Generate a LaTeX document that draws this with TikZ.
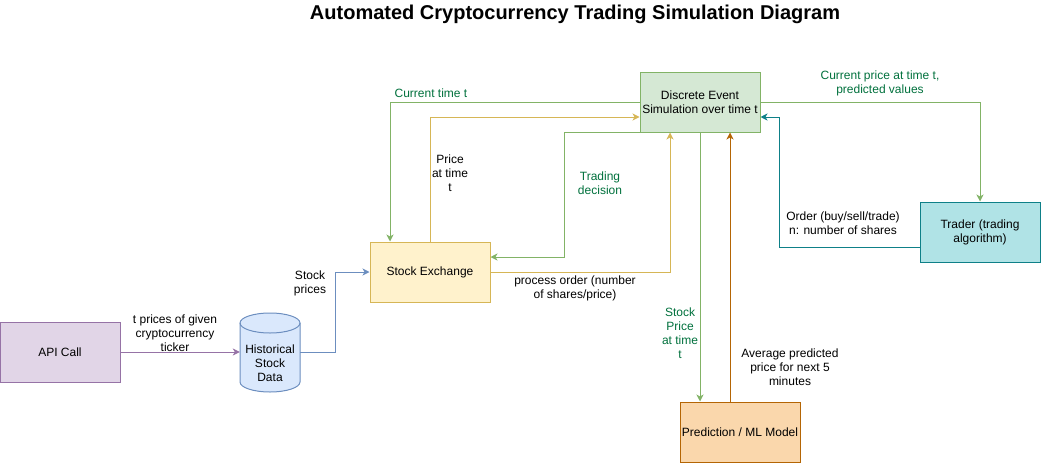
\documentclass[tikz,border=0pt]{standalone}
\usepackage{fontspec}
\setmainfont{Liberation Sans}
\usetikzlibrary{arrows.meta}
\definecolor{desfill}{HTML}{D5E8D4}\definecolor{desline}{HTML}{82B366}
\definecolor{sefill}{HTML}{FFF2CC}\definecolor{seline}{HTML}{D6B656}
\definecolor{apifill}{HTML}{E1D5E7}\definecolor{apiline}{HTML}{9673A6}
\definecolor{histfill}{HTML}{DAE8FC}\definecolor{histline}{HTML}{6C8EBF}
\definecolor{predfill}{HTML}{FAD7AC}\definecolor{predline}{HTML}{B46504}
\definecolor{trfill}{HTML}{B0E3E6}\definecolor{trline}{HTML}{0E8088}
\definecolor{gtext}{RGB}{0,112,60}
\tikzset{
  box/.style={draw, line width=1pt, minimum width=120pt, minimum height=60pt, inner sep=0pt, align=center, font=\fontsize{12}{14}\selectfont},
  conn/.style={line width=1pt, -{Stealth[length=7pt,width=7pt,inset=2pt]}},
  lbl/.style={align=center, inner sep=0pt, font=\fontsize{12}{14}\selectfont},
  glbl/.style={lbl, text=gtext}
}
\begin{document}
\begin{tikzpicture}[x=1pt,y=-1pt]
\useasboundingbox (0,0) rectangle (1041,463);
\node (title) at (575,14) {\fontsize{20}{22}\selectfont\bfseries Automated Cryptocurrency Trading Simulation Diagram};
\node[box, fill=desfill, draw=desline] (des) at (700,102) {Discrete Event\\Simulation over time t};
\node[box, fill=sefill, draw=seline] (se) at (430,272) {Stock Exchange};
\node[box, fill=apifill, draw=apiline] (api) at (60,352) {API Call};
\node[box, fill=predfill, draw=predline] (pred) at (740,432) {Prediction / ML Model};
\node[box, fill=trfill, draw=trline] (trader) at (980,232) {Trader (trading\\algorithm)};
% cylinder
\filldraw[fill=histfill, draw=histline, line width=1pt] (240,323) -- (240,382) arc[start angle=180, end angle=360, x radius=30pt, y radius=10pt] -- (300,323) arc[start angle=0, end angle=180, x radius=30pt, y radius=10pt] -- cycle;
\draw[histline, line width=1pt] (240,323) arc[start angle=180, end angle=360, x radius=30pt, y radius=10pt];
\node[minimum width=60pt, minimum height=79pt, inner sep=0pt] (hist) at (270,352) {};
\node[lbl] (histlabel) at (270,363) {Historical\\Stock\\Data};
% connectors
\draw[conn, apiline] (api.east) -- (hist.west);
\draw[conn, histline] (hist.east) -- ++(35,0) |- (se.west);
\draw[conn, desline] (des.west) -| ([xshift=-40pt]se.north);
\draw[conn, seline] (se.north) |- ([yshift=-15pt]des.west);
\draw[conn, desline] (des.south west) -- ++(-75,0) |- ([yshift=15pt]se.east);
\draw[conn, seline] (se.east) -| ([xshift=-30pt]des.south);
\draw[conn, desline] (des.south) -- (des.south |- pred.north);
\draw[conn, predline] ([xshift=-10pt]pred.north) -- ([xshift=-10pt]pred.north |- des.south);
\draw[conn, desline] (des.east) -| (trader.north);
\draw[conn, trline] ([yshift=-15pt]trader.west) -- ++(-140,0) |- ([yshift=-15pt]des.east);
% labels
\node[lbl] (l1) at (175,333) {t prices of given\\cryptocurrency\\ticker};
\node[lbl] (l2) at (310,283) {Stock\\prices};
\node[glbl] (l3) at (431,93) {Current time t};
\node[lbl] (l4) at (450,173) {Price\\at time\\t};
\node[glbl] (l5) at (600,183) {Trading\\decision};
\node[lbl] (l6) at (575,288) {process order (number\\of shares/price)};
\node[glbl] (l7) at (680,333) {Stock\\Price\\at time\\t};
\node[lbl] (l8) at (790,367) {Average predicted\\price for next 5\\minutes};
\node[glbl] (l9) at (880,83) {Current price at time t,\\predicted values};
\node[lbl] (l10) at (843,223) {Order (buy/sell/trade)\\n: number of shares};
\end{tikzpicture}
\end{document}
